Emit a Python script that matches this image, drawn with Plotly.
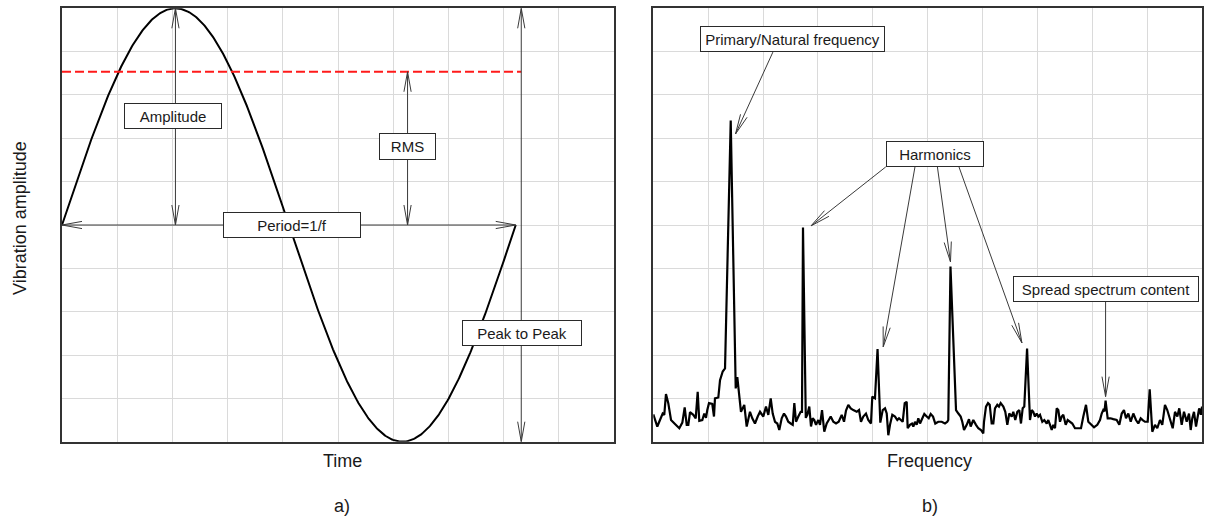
import numpy as np
import plotly.graph_objects as go

W, H = 1206, 518

# ---------------- Panel a) : time signal ----------------
AMPLITUDE = 1.0
PERIOD = 8.22          # in grid units of the time axis
RMS = AMPLITUDE / np.sqrt(2)
AMP_ARROW_X = PERIOD / 4
RMS_ARROW_X = 6.26
P2P_ARROW_X = 8.32

sine_t = np.linspace(0, PERIOD, 500)
sine_y = AMPLITUDE * np.sin(2 * np.pi * sine_t / PERIOD)

# ---------------- Panel b) : spectrum ----------------
freq = [0.0, 0.73, 1.22, 1.71, 2.0, 2.31, 2.73, 3.23, 3.95, 4.74, 5.29, 5.72, 6.09, 6.38, 6.69,
        7.29, 7.73, 8.09, 8.38, 8.93, 9.29, 9.6, 9.84, 10.15, 10.75, 11.06, 11.24, 11.85, 12.16,
        12.65, 13.07, 14.11, 15.02, 15.31, 15.98, 16.58, 17.02, 17.62, 18.04, 18.53, 19.03,
        19.45, 20.05, 20.54, 20.96, 21.4, 21.76, 22.18, 22.6, 22.96, 23.4, 23.82, 24.18, 24.6,
        25.04, 25.41, 25.7, 26.01, 26.43, 26.86, 27.1, 27.28, 27.79, 28.07, 28.43, 28.74, 29.05,
        29.34, 29.65, 30.07, 30.38, 30.75, 31.16, 31.6, 31.97, 32.33, 32.81, 33.3, 33.79, 34.34,
        34.76, 35.12, 35.54, 35.98, 36.45, 37.07, 37.49, 37.85, 38.27, 38.76, 39.18, 39.67,
        39.91, 40.4, 40.87, 41.37, 41.81, 42.23, 42.54, 42.83, 43.14, 43.56, 44.05, 44.47,
        44.78, 45.14, 45.45, 45.82, 46.18, 46.36, 46.78, 47.15, 47.39, 47.69, 48.0, 48.3,
        48.61, 49.03, 49.39, 49.83, 50.19, 50.56, 50.98, 51.39, 51.94, 52.56, 53.16, 53.58,
        53.76, 54.16, 55.17, 55.6, 56.02, 56.31, 56.63, 57.12, 57.53, 57.84, 58.32, 58.81,
        59.23, 59.72, 60.14, 60.27, 60.63, 61.0, 61.31, 61.67, 61.97, 62.27, 62.69, 63.0,
        63.31, 63.79, 64.15, 64.52, 64.88, 65.32, 65.61, 65.97, 66.34, 66.7, 67.01, 67.32,
        67.61, 68.12, 68.65, 68.96, 69.25, 69.56, 69.87, 70.17, 70.48, 70.9, 71.26, 71.7,
        71.99, 72.3, 72.61, 72.9, 73.21, 73.52, 73.81, 74.12, 74.43, 74.72, 75.16, 75.52,
        75.94, 76.36, 76.85, 77.4, 77.95, 78.37, 78.86, 79.28, 79.77, 80.32, 80.92, 81.41,
        81.72, 82.01, 82.23, 82.43, 82.81, 83.32, 83.83, 84.45, 84.93, 85.37, 85.78, 86.15,
        86.57, 87.01, 87.48, 87.97, 88.39, 88.83, 89.19, 89.61, 90.1, 90.47, 90.94, 91.43,
        91.85, 92.34, 92.76, 93.25, 93.67, 94.16, 94.66, 95.08, 95.5, 95.86, 96.3, 96.72,
        97.21, 97.63, 97.94, 98.23, 98.54, 98.91, 99.15, 99.48, 99.79, 100.0]
amp = [0.63, 0.35, 0.5, 0.65, 0.62, 1.1, 0.89, 0.5, 0.41, 0.31, 0.44, 0.79, 0.39, 0.39, 0.68,
       0.62, 0.54, 1.15, 0.48, 0.5, 0.65, 0.55, 0.73, 0.89, 0.87, 0.58, 1.0, 1.02, 1.42,
       1.62, 1.69, 7.41, 1.23, 1.49, 0.69, 0.85, 0.35, 0.69, 0.54, 0.42, 0.58,
       0.69, 0.58, 0.81, 0.62, 1.0, 0.65, 0.46, 0.42, 0.27, 0.54, 0.65, 0.58, 0.46,
       0.42, 0.39, 0.89, 0.46, 0.58, 0.69, 0.69, 4.94, 0.55, 0.62, 0.81, 0.35, 0.54,
       0.5, 0.39, 0.5, 0.39, 0.73, 0.23, 0.42, 0.5, 0.58, 0.46, 0.42, 0.46, 0.62,
       0.46, 0.72, 0.85, 0.77, 0.73, 0.69, 0.73, 0.46, 0.58, 0.65, 0.5, 0.42,
       1.04, 1.0, 2.14, 0.44, 0.73, 0.77, 0.65, 0.15, 0.39, 0.62, 0.58, 0.5,
       0.54, 0.5, 0.46, 0.89, 0.92, 0.31, 0.39, 0.42, 0.35, 0.46, 0.39, 0.54,
       0.42, 0.54, 0.64, 0.58, 0.54, 0.64, 0.58, 0.42, 0.46, 0.46, 0.42, 0.46,
       0.5, 4.04, 0.73, 0.65, 0.58, 0.46, 0.27, 0.39, 0.52, 0.35, 0.5, 0.39,
       0.31, 0.27, 0.19, 0.46, 0.81, 0.89, 0.85, 0.42, 0.42, 0.77, 0.85, 0.81,
       0.89, 0.81, 0.69, 0.39, 0.65, 0.58, 0.69, 0.5, 0.69, 0.73, 0.42, 0.77,
       0.81, 2.15, 0.5, 0.73, 0.69, 0.58, 0.65, 0.58, 0.62, 0.46, 0.5, 0.42,
       0.5, 0.39, 0.27, 0.39, 0.31, 0.77, 0.73, 0.46, 0.58, 0.62, 0.39, 0.5,
       0.46, 0.42, 0.31, 0.31, 0.31, 0.58, 0.85, 0.46, 0.39, 0.33, 0.39, 0.5,
       0.65, 0.73, 0.7, 0.95, 0.54, 0.54, 0.52, 0.5, 0.39, 0.65, 0.73, 0.54,
       0.65, 0.46, 0.65, 0.5, 0.42, 0.54, 0.5, 0.46, 0.46, 1.21, 0.23, 0.39,
       0.31, 0.5, 0.39, 0.85, 0.73, 0.54, 0.31, 0.69, 0.58, 0.77, 0.39, 0.69,
       0.46, 0.65, 0.27, 0.54, 0.69, 0.35, 0.58, 0.77, 0.62, 0.81]

# annotation texts
LBL_AMP, LBL_RMS, LBL_PERIOD, LBL_P2P = "Amplitude", "RMS", "Period=1/f", "Peak to Peak"
LBL_PRIMARY, LBL_HARM, LBL_SPREAD = "Primary/Natural frequency", "Harmonics", "Spread spectrum content"

# ---------------- layout geometry ----------------
XD1 = [62 / W, 614 / W]
XD2 = [653.3 / W, 1202 / W]
YD = [1 - 441.7 / H, 1 - 8.3 / H]
XR1, YR1 = [0, 10], [-1, 1]
XR2, YR2 = [0, 100], [0, 10]

FONT = "Arial, Liberation Sans, sans-serif"
ARROW_COL = "#3a3a3a"
BOX_COL = "#2a2a2a"

fig = go.Figure()
fig.add_trace(go.Scatter(x=sine_t, y=sine_y, mode="lines", line=dict(color="black", width=2),
                         xaxis="x", yaxis="y", hoverinfo="skip", showlegend=False))
fig.add_trace(go.Scatter(x=freq, y=amp, mode="lines", line=dict(color="black", width=2.2),
                         xaxis="x2", yaxis="y2", hoverinfo="skip", showlegend=False))

axc = dict(showline=True, mirror=True, linecolor="#333333", linewidth=1.5, showgrid=True,
           gridcolor="#dadada", gridwidth=1, zeroline=False, showticklabels=False, ticks="",
           fixedrange=True)
fig.update_layout(
    width=W, height=H, margin=dict(l=0, r=0, t=0, b=0),
    paper_bgcolor="white", plot_bgcolor="white",
    xaxis=dict(domain=XD1, range=XR1, dtick=1, tick0=0, anchor="y", **axc),
    yaxis=dict(domain=YD, range=YR1, dtick=0.2, tick0=0, anchor="x", **axc),
    xaxis2=dict(domain=XD2, range=XR2, dtick=10, tick0=0, anchor="y2", **axc),
    yaxis2=dict(domain=YD, range=YR2, dtick=1, tick0=0, anchor="x2", **axc),
    font=dict(family=FONT, color="#222222"),
)

# pixel scales
def scales(xd, yd, xr, yr):
    sx = (xd[1] - xd[0]) * W / (xr[1] - xr[0])
    sy = (yd[1] - yd[0]) * H / (yr[1] - yr[0])
    return sx, sy

S1 = scales(XD1, YD, XR1, YR1)
S2 = scales(XD2, YD, XR2, YR2)

HEAD_L, HEAD_W = 20.0, 3.6

def head(tip, tail, sc, xref, yref):
    sx, sy = sc
    dx = (tail[0] - tip[0]) * sx
    dy = (tail[1] - tip[1]) * sy
    n = np.hypot(dx, dy)
    ux, uy = dx / n, dy / n
    px, py = -uy, ux
    a1 = (tip[0] + (HEAD_L * ux + HEAD_W * px) / sx, tip[1] + (HEAD_L * uy + HEAD_W * py) / sy)
    a2 = (tip[0] + (HEAD_L * ux - HEAD_W * px) / sx, tip[1] + (HEAD_L * uy - HEAD_W * py) / sy)
    fig.add_shape(type="path", xref=xref, yref=yref,
                  path=f"M{a1[0]},{a1[1]} L{tip[0]},{tip[1]} L{a2[0]},{a2[1]}",
                  line=dict(color=ARROW_COL, width=1))

def arrow(p0, p1, sc, xref, yref, both=False):
    fig.add_shape(type="line", xref=xref, yref=yref, x0=p0[0], y0=p0[1], x1=p1[0], y1=p1[1],
                  line=dict(color=ARROW_COL, width=1))
    head(p1, p0, sc, xref, yref)
    if both:
        head(p0, p1, sc, xref, yref)

# RMS dashed line
fig.add_shape(type="line", xref="x", yref="y", x0=0, y0=RMS, x1=P2P_ARROW_X, y1=RMS,
              line=dict(color="#ff1a1a", width=2, dash="9px,4px"))

# panel a arrows
arrow((AMP_ARROW_X, 0), (AMP_ARROW_X, AMPLITUDE), S1, "x", "y", both=True)
arrow((RMS_ARROW_X, 0), (RMS_ARROW_X, RMS), S1, "x", "y", both=True)
arrow((0, 0), (PERIOD, 0), S1, "x", "y", both=True)
arrow((P2P_ARROW_X, -AMPLITUDE), (P2P_ARROW_X, AMPLITUDE), S1, "x", "y", both=True)

# panel b arrows
arrow((21.8, 8.99), (14.98, 7.10), S2, "x2", "y2")
arrow((42.37, 6.34), (28.74, 4.98), S2, "x2", "y2")
arrow((47.69, 6.34), (41.9, 2.19), S2, "x2", "y2")
arrow((51.78, 6.34), (54.16, 4.15), S2, "x2", "y2")
arrow((55.71, 6.34), (67.18, 2.28), S2, "x2", "y2")
arrow((82.43, 3.23), (82.43, 1.04), S2, "x2", "y2")

def box(text, x, y, w, h, xref, yref):
    fig.add_annotation(text=text, x=x, y=y, xref=xref, yref=yref, showarrow=False,
                       xanchor="center", yanchor="middle", align="center",
                       width=w - 4, height=h - 4, borderpad=1, borderwidth=1,
                       bordercolor=BOX_COL, bgcolor="white",
                       font=dict(size=15, family=FONT, color="#1a1a1a"))

box(LBL_AMP, 2.01, 0.505, 98, 26, "x", "y")
box(LBL_RMS, RMS_ARROW_X, 0.36, 57, 27, "x", "y")
box(LBL_PERIOD, 4.16, 0.0, 138, 26, "x", "y")
box(LBL_P2P, 8.33, -0.498, 120, 26, "x", "y")
box(LBL_PRIMARY, 25.28, 9.29, 185, 26, "x2", "y2")
box(LBL_HARM, 51.34, 6.64, 98, 26, "x2", "y2")
box(LBL_SPREAD, 82.47, 3.53, 186, 26, "x2", "y2")

def ptext(text, px, py, size=18, angle=0):
    fig.add_annotation(text=text, x=px / W, y=1 - py / H, xref="paper", yref="paper",
                       showarrow=False, xanchor="center", yanchor="middle", textangle=angle,
                       font=dict(size=size, family=FONT, color="#1a1a1a"))

ptext("Vibration amplitude", 20, 218, angle=-90)
ptext("Time", 342, 461)
ptext("Frequency", 929, 461)
ptext("a)", 342, 506)
ptext("b)", 930, 506)

# remove the default 8px page margin so the figure sits at the window origin
POST = "document.body.style.margin='0';document.body.style.overflow='hidden';"
fig.write_html("out.html", post_script=POST, config={"displayModeBar": False})
